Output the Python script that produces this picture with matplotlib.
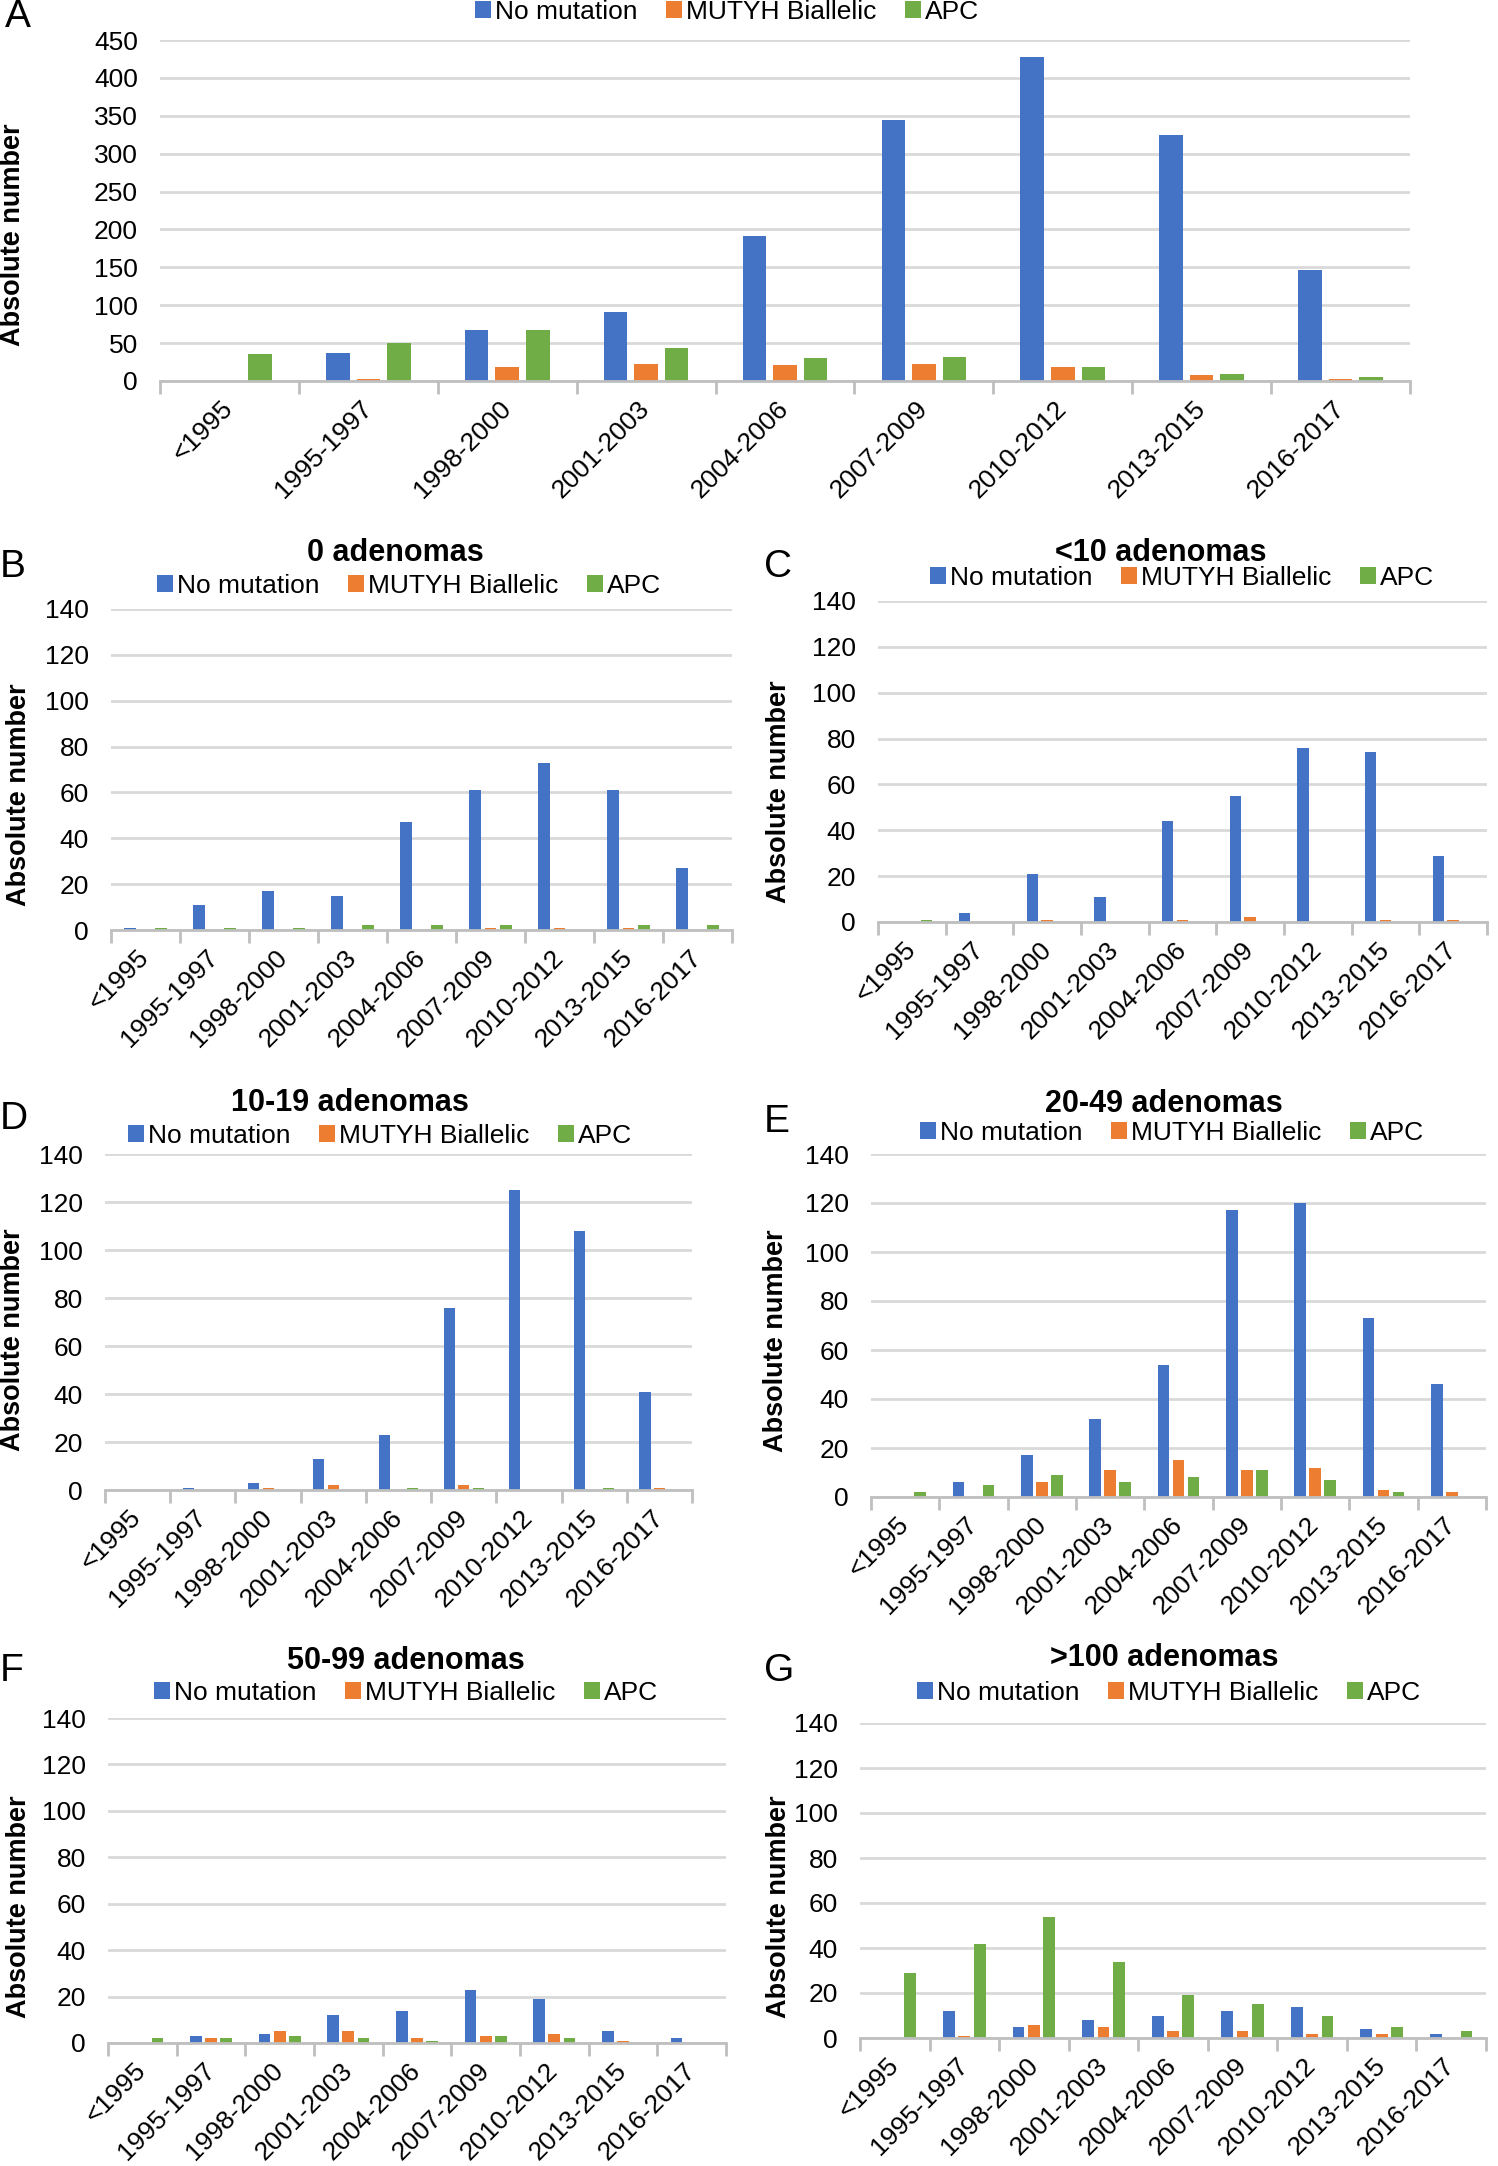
import numpy as np
import matplotlib
matplotlib.use("Agg")
import matplotlib.pyplot as plt

plt.rcParams['font.family'] = ['Liberation Sans', 'DejaVu Sans']

# categories
periods = ['<1995', '1995-1997', '1998-2000', '2001-2003', '2004-2006',
           '2007-2009', '2010-2012', '2013-2015', '2016-2017']
series_names = ['No mutation', 'MUTYH Biallelic', 'APC']

# A - all patients
all_nomut = [0, 37, 67, 91, 192, 344, 427, 325, 147]
all_mutyh = [0, 3, 19, 23, 21, 22, 19, 8, 3]
all_apc = [35, 50, 67, 44, 31, 32, 19, 9, 5]

# B - 0 adenomas
a0_nomut = [1, 11, 17, 15, 47, 61, 73, 61, 27]
a0_mutyh = [0, 0, 0, 0, 0, 1, 1, 1, 0]
a0_apc = [1, 1, 1, 2, 2, 2, 0, 2, 2]

# C - <10 adenomas
lt10_nomut = [0, 4, 21, 11, 44, 55, 76, 74, 29]
lt10_mutyh = [0, 0, 1, 0, 1, 2, 0, 1, 1]
lt10_apc = [1, 0, 0, 0, 0, 0, 0, 0, 0]

# D - 10-19 adenomas
a10_nomut = [0, 1, 3, 13, 23, 76, 125, 108, 41]
a10_mutyh = [0, 0, 1, 2, 0, 2, 0, 0, 1]
a10_apc = [0, 0, 0, 0, 1, 1, 0, 1, 0]

# E - 20-49 adenomas
a20_nomut = [0, 6, 17, 32, 54, 117, 120, 73, 46]
a20_mutyh = [0, 0, 6, 11, 15, 11, 12, 3, 2]
a20_apc = [2, 5, 9, 6, 8, 11, 7, 2, 0]

# F - 50-99 adenomas
a50_nomut = [0, 3, 4, 12, 14, 23, 19, 5, 2]
a50_mutyh = [0, 2, 5, 5, 2, 3, 4, 1, 0]
a50_apc = [2, 2, 3, 2, 1, 3, 2, 0, 0]

# G - >100 adenomas
a100_nomut = [0, 12, 5, 8, 10, 12, 14, 4, 2]
a100_mutyh = [0, 1, 6, 5, 3, 3, 2, 2, 0]
a100_apc = [29, 42, 54, 34, 19, 15, 10, 5, 3]

colors = ['#4472C4', '#ED7D31', '#70AD47']

W, H = 1498, 2166
fig = plt.figure(figsize=(W / 100, H / 100), dpi=100)


def fx(px):
    return px / W


def fy(px):
    return 1 - px / H


# (letter, title, series, plot box px (x0, y0, x1, y1), ymax, ystep,
#  letter pos, ylabel (x, y), title pos, legend pos)
panels = [
    ('A', None, (all_nomut, all_mutyh, all_apc), (160, 40, 1410, 381), 450, 50,
     (5, 17), (0, 235), None, (727, 12)),
    ('B', '0 adenomas', (a0_nomut, a0_mutyh, a0_apc), (111, 609, 732, 930), 140, 20,
     (0, 567), (6, 795), (395, 553), (409, 586)),
    ('C', '<10 adenomas', (lt10_nomut, lt10_mutyh, lt10_apc), (878, 601, 1487, 922), 140, 20,
     (764, 567), (766, 792), (1161, 553), (1182, 578)),
    ('D', '10-19 adenomas', (a10_nomut, a10_mutyh, a10_apc), (105, 1154, 692, 1490), 140, 20,
     (0, 1119), (0, 1340), (350, 1103), (380, 1136)),
    ('E', '20-49 adenomas', (a20_nomut, a20_mutyh, a20_apc), (871, 1154, 1486, 1497), 140, 20,
     (764, 1122), (763, 1341), (1164, 1104), (1172, 1133)),
    ('F', '50-99 adenomas', (a50_nomut, a50_mutyh, a50_apc), (108, 1718, 726, 2043), 140, 20,
     (0, 1671), (6, 1907), (406, 1661), (406, 1693)),
    ('G', '>100 adenomas', (a100_nomut, a100_mutyh, a100_apc), (860, 1723, 1486, 2038), 140, 20,
     (764, 1671), (766, 1907), (1164, 1658), (1169, 1693)),
]

x = np.arange(len(periods))
bw = 0.17
step = 0.22

for letter, title, series, box, ymax, ystep, lpos, ylpos, tpos, legpos in panels:
    x0, y0, x1, y1 = box
    ax = fig.add_axes([fx(x0), fy(y1), fx(x1 - x0), (y1 - y0) / H])
    handles = []
    for k, vals in enumerate(series):
        b = ax.bar(x + (k - 1) * step, vals, bw, color=colors[k], zorder=3,
                   label=series_names[k])
        handles.append(b)
    ax.set_xlim(-0.5, len(periods) - 0.5)
    ax.set_ylim(0, ymax)
    ax.set_yticks(np.arange(0, ymax + 1, ystep))
    ax.yaxis.grid(True, color='#d9d9d9', linewidth=2, zorder=0)
    for s in ['top', 'right', 'left']:
        ax.spines[s].set_visible(False)
    ax.spines['bottom'].set_color('#bfbfbf')
    ax.spines['bottom'].set_linewidth(2)
    ax.spines['bottom'].set_zorder(4)
    ax.tick_params(axis='y', length=0, labelsize=19, pad=16, labelcolor='black')
    ax.set_xticks(x)
    ax.set_xticklabels(periods, rotation=45, ha='right', rotation_mode='anchor',
                       va='center', fontsize=19)
    ax.tick_params(axis='x', which='major', length=0, pad=17)
    ax.set_xticks(np.arange(-0.5, len(periods), 1), minor=True)
    ax.tick_params(axis='x', which='minor', length=9, width=2, color='#bfbfbf',
                   direction='out')

    fig.text(fx(lpos[0]), fy(lpos[1]), letter, fontsize=28, ha='left', va='center')
    fig.text(fx(ylpos[0]), fy(ylpos[1]), 'Absolute number', rotation=90,
             fontsize=19.5, fontweight='bold', ha='left', va='center')
    if title:
        fig.text(fx(tpos[0]), fy(tpos[1]), title, fontsize=22, fontweight='bold',
                 ha='center', va='center')
    fig.legend(handles=handles, loc='center', bbox_to_anchor=(fx(legpos[0]), fy(legpos[1])),
               ncol=3, frameon=False, fontsize=19, handlelength=0.6, handleheight=0.6,
               handletextpad=0.15, columnspacing=1.1, borderpad=0, borderaxespad=0)

fig.savefig('out.png', dpi=100)
